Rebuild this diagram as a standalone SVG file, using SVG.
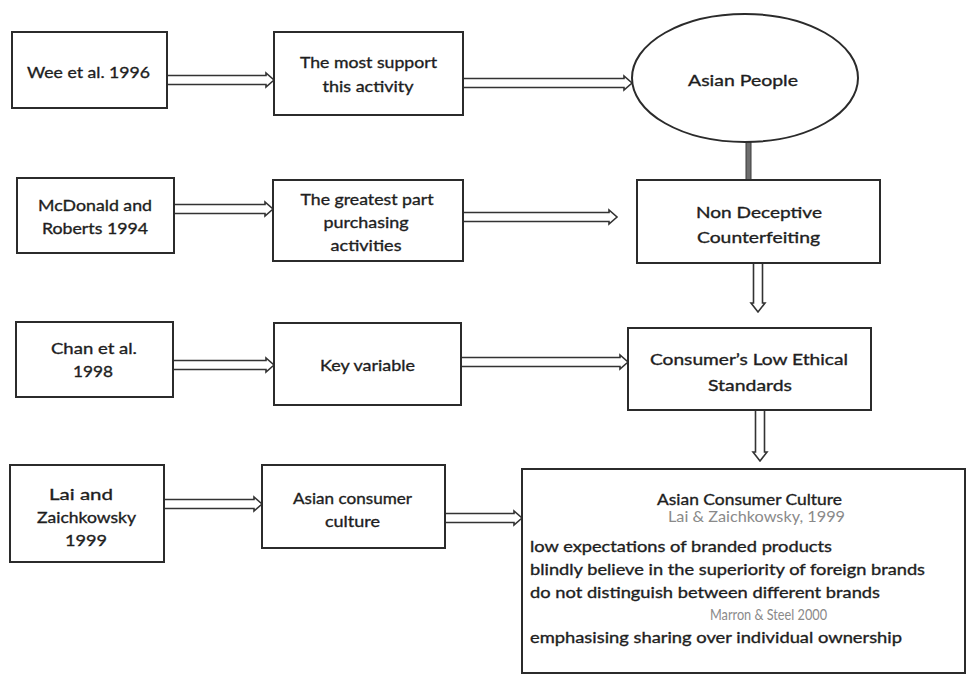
<svg xmlns="http://www.w3.org/2000/svg" width="970" height="676" viewBox="0 0 970 676">
  <defs>
    <style>
      .box { fill: #ffffff; stroke: #2b2b2b; stroke-width: 2; }
      .arr { fill: #ffffff; stroke: #333333; stroke-width: 1.6; stroke-linejoin: miter; }
      .bar { fill: #6e6e6e; stroke: #3a3a3a; stroke-width: 1; }
      .t { font-family: Lato, "Liberation Sans", sans-serif; font-size: 16px; fill: #1e1e1e; stroke: #1e1e1e; stroke-width: 0.35; text-anchor: middle; }
      .l { font-family: Lato, "Liberation Sans", sans-serif; font-size: 16px; fill: #1e1e1e; stroke: #1e1e1e; stroke-width: 0.35; }
      .ref { font-family: Lato, "Liberation Sans", sans-serif; font-size: 15px; fill: #8a8a8a; text-anchor: middle; }
    </style>
  </defs>
  <rect width="970" height="676" fill="#ffffff"/>

  <!-- connectors: hollow block arrows -->
  <g id="connectors">
    <!-- row 1 -->
    <path class="arr" d="M167 75.5 H266 V73 L274 80 L266 87 V84.5 H167 Z"/>
    <path class="arr" d="M463 78.5 H624 V76 L632 83 L624 90 V87.5 H463 Z"/>
    <rect class="bar" x="746" y="142" width="5" height="38"/>
    <!-- row 2 -->
    <path class="arr" d="M174 204.5 H265 V202 L273 209 L265 216 V213.5 H174 Z"/>
    <path class="arr" d="M463 212.5 H609 V210 L617 217 L609 224 V221.5 H463 Z"/>
    <path class="arr" d="M753.5 263 V303 H751 L758 312 L765 303 H762.5 V263 Z"/>
    <!-- row 3 -->
    <path class="arr" d="M173 360.5 H266 V358 L274 365 L266 372 V369.5 H173 Z"/>
    <path class="arr" d="M461 357.5 H620 V355 L628 362 L620 369 V366.5 H461 Z"/>
    <path class="arr" d="M755.5 410 V452 H753 L760 461 L767 452 H764.5 V410 Z"/>
    <!-- row 4 -->
    <path class="arr" d="M164 499.5 H254 V497 L262 504 L254 511 V508.5 H164 Z"/>
    <path class="arr" d="M445 513.5 H514 V511 L522 518 L514 525 V522.5 H445 Z"/>
  </g>

  <!-- row 1 -->
  <g id="wee1996">
    <rect class="box" x="12" y="32" width="155" height="76"/>
    <text class="t" x="88.5" y="78" textLength="123" lengthAdjust="spacingAndGlyphs">Wee et al. 1996</text>
  </g>
  <g id="most-support">
    <rect class="box" x="274" y="32" width="189" height="83"/>
    <text class="t" x="368.5" y="68" textLength="137" lengthAdjust="spacingAndGlyphs">The most support</text>
    <text class="t" x="368" y="92" textLength="91" lengthAdjust="spacingAndGlyphs">this activity</text>
  </g>
  <g id="asian-people">
    <ellipse class="box" cx="745" cy="78" rx="113" ry="64"/>
    <text class="t" x="743" y="86" textLength="110" lengthAdjust="spacingAndGlyphs">Asian People</text>
  </g>

  <!-- row 2 -->
  <g id="mcdonald1994">
    <rect class="box" x="17" y="178" width="157" height="75"/>
    <text class="t" x="95" y="211" textLength="114" lengthAdjust="spacingAndGlyphs">McDonald and</text>
    <text class="t" x="95" y="234" textLength="106" lengthAdjust="spacingAndGlyphs">Roberts 1994</text>
  </g>
  <g id="greatest-part">
    <rect class="box" x="273" y="180" width="190" height="81"/>
    <text class="t" x="367" y="205" textLength="133" lengthAdjust="spacingAndGlyphs">The greatest part</text>
    <text class="t" x="366" y="228" textLength="85" lengthAdjust="spacingAndGlyphs">purchasing</text>
    <text class="t" x="366" y="251" textLength="71" lengthAdjust="spacingAndGlyphs">activities</text>
  </g>
  <g id="non-deceptive">
    <rect class="box" x="637" y="180" width="243" height="83"/>
    <text class="t" x="759" y="218" textLength="126" lengthAdjust="spacingAndGlyphs">Non Deceptive</text>
    <text class="t" x="758.5" y="243" textLength="123" lengthAdjust="spacingAndGlyphs">Counterfeiting</text>
  </g>

  <!-- row 3 -->
  <g id="chan1998">
    <rect class="box" x="16" y="322" width="157" height="75"/>
    <text class="t" x="94" y="354" textLength="86" lengthAdjust="spacingAndGlyphs">Chan et al.</text>
    <text class="t" x="93" y="377" textLength="40" lengthAdjust="spacingAndGlyphs">1998</text>
  </g>
  <g id="key-variable">
    <rect class="box" x="274" y="323" width="187" height="82"/>
    <text class="t" x="367.5" y="371" textLength="95" lengthAdjust="spacingAndGlyphs">Key variable</text>
  </g>
  <g id="low-ethical">
    <rect class="box" x="628" y="328" width="243" height="82"/>
    <text class="t" x="749" y="365" textLength="198" lengthAdjust="spacingAndGlyphs">Consumer’s Low Ethical</text>
    <text class="t" x="750" y="391" textLength="84" lengthAdjust="spacingAndGlyphs">Standards</text>
  </g>

  <!-- row 4 -->
  <g id="lai1999">
    <rect class="box" x="10" y="465" width="154" height="97"/>
    <text class="t" x="81" y="500" textLength="64" lengthAdjust="spacingAndGlyphs">Lai and</text>
    <text class="t" x="86.5" y="523" textLength="99" lengthAdjust="spacingAndGlyphs">Zaichkowsky</text>
    <text class="t" x="86" y="546" textLength="42" lengthAdjust="spacingAndGlyphs">1999</text>
  </g>
  <g id="asian-consumer">
    <rect class="box" x="262" y="465" width="183" height="83"/>
    <text class="t" x="352.5" y="504" textLength="119" lengthAdjust="spacingAndGlyphs">Asian consumer</text>
    <text class="t" x="352.5" y="527" textLength="55" lengthAdjust="spacingAndGlyphs">culture</text>
  </g>
  <g id="asian-consumer-culture">
    <rect class="box" x="522" y="469" width="443" height="204"/>
    <text class="t" x="749.5" y="505" textLength="185" lengthAdjust="spacingAndGlyphs">Asian Consumer Culture</text>
    <text class="ref" x="756.5" y="522" textLength="177" lengthAdjust="spacingAndGlyphs">Lai &amp; Zaichkowsky, 1999</text>
    <text class="l" x="530" y="552" textLength="302" lengthAdjust="spacingAndGlyphs">low expectations of branded products</text>
    <text class="l" x="530" y="575" textLength="395" lengthAdjust="spacingAndGlyphs">blindly believe in the superiority of foreign brands</text>
    <text class="l" x="530" y="598" textLength="350" lengthAdjust="spacingAndGlyphs">do not distinguish between different brands</text>
    <text class="ref" x="768.5" y="620" textLength="117" lengthAdjust="spacingAndGlyphs">Marron &amp; Steel 2000</text>
    <text class="l" x="530" y="643" textLength="372" lengthAdjust="spacingAndGlyphs">emphasising sharing over individual ownership</text>
  </g>
</svg>
